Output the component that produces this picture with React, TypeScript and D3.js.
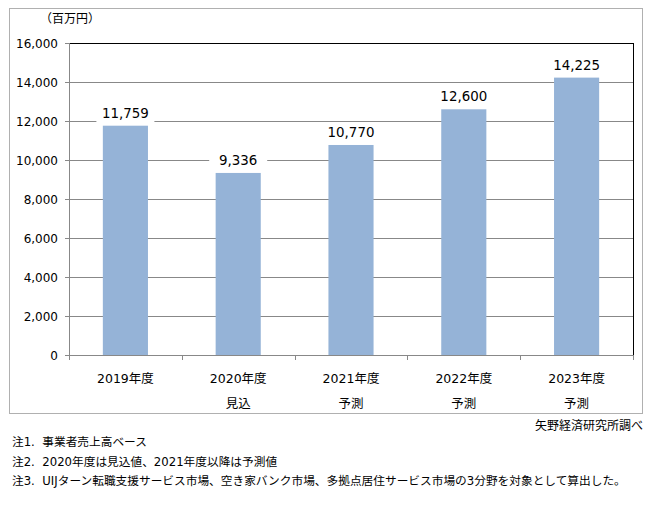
import React from "react";
import * as d3 from "d3";

const categories = ["2019年度", "2020年度", "2021年度", "2022年度", "2023年度"];
const subLabels = ["", "見込", "予測", "予測", "予測"];
const values = [11759, 9336, 10770, 12600, 14225];
const yTicks = [0, 2000, 4000, 6000, 8000, 10000, 12000, 14000, 16000];
const unitLabel = "（百万円）";
const sourceLabel = "矢野経済研究所調べ";
const notes = [
  "注1.  事業者売上高ベース",
  "注2.  2020年度は見込値、2021年度以降は予測値",
  "注3.  UIJターン転職支援サービス市場、空き家バンク市場、多拠点居住サービス市場の3分野を対象として算出した。",
];

const FONT = "'DejaVu Sans', 'Noto Sans CJK JP', sans-serif";

export default function App() {
  const W = 652, H = 520;
  const left = 69, right = 633, top = 43, bottom = 355;
  const x = d3.scaleBand<string>().domain(categories).range([left, right]).paddingInner(0.6).paddingOuter(0.3);
  const y = d3.scaleLinear().domain([0, 16000]).range([bottom, top]);
  const fmt = d3.format(",");
  const step = x.step();
  const boundaries = d3.range(categories.length + 1).map((i) => left + i * step);

  return (
    <svg width={W} height={H} style={{ position: "absolute", left: 0, top: 0, background: "#fff" }} fontFamily={FONT}>
      <rect x={0} y={0} width={W} height={H} fill="#fff" />
      <rect x={9.5} y={8.5} width={633} height={405} fill="none" stroke="#b0b0b0" strokeWidth={1} />
      <text x={40} y={23} fontSize={12} fill="#000">{unitLabel}</text>
      {yTicks.filter((t) => t > 0).map((t) => (
        <line key={"g" + t} x1={left} x2={right} y1={Math.round(y(t)) + 0.5} y2={Math.round(y(t)) + 0.5} stroke="#888" strokeWidth={1} />
      ))}
      <line x1={left} x2={right} y1={Math.round(y(16000)) + 0.5} y2={Math.round(y(16000)) + 0.5} stroke="#000" strokeWidth={1} />
      <line x1={right + 0.5} x2={right + 0.5} y1={top} y2={bottom} stroke="#000" strokeWidth={1} />
      {categories.map((c, i) => (
        <rect key={c} x={x(c)} y={y(values[i])} width={x.bandwidth()} height={bottom - y(values[i])} fill="#95B3D7" />
      ))}
      <line x1={left + 0.5} x2={left + 0.5} y1={top} y2={bottom} stroke="#888" strokeWidth={1} />
      {yTicks.map((t) => (
        <g key={"t" + t}>
          <line x1={left - 4} x2={left} y1={Math.round(y(t)) + 0.5} y2={Math.round(y(t)) + 0.5} stroke="#888" />
          <text x={58} y={y(t) + 4.5} fontSize={12} textAnchor="end" fill="#000">{fmt(t)}</text>
        </g>
      ))}
      <line x1={left} x2={right + 1} y1={bottom + 0.5} y2={bottom + 0.5} stroke="#888" strokeWidth={1} />
      {boundaries.map((b, i) => (
        <line key={"b" + i} x1={Math.round(b) + 0.5} x2={Math.round(b) + 0.5} y1={bottom} y2={bottom + 5} stroke="#888" />
      ))}
      {categories.map((c, i) => (
        <g key={"xl" + c}>
          <text x={(x(c) as number) + x.bandwidth() / 2} y={383} fontSize={12.5} textAnchor="middle" fill="#000">{c}</text>
          {subLabels[i] && (
            <text x={(x(c) as number) + x.bandwidth() / 2} y={408} fontSize={12.5} textAnchor="middle" fill="#000">{subLabels[i]}</text>
          )}
        </g>
      ))}
      {categories.map((c, i) => {
        const cx = (x(c) as number) + x.bandwidth() / 2;
        const vy = y(values[i]);
        return (
          <g key={"v" + c}>
            <rect x={cx - 29} y={vy - 22} width={58} height={19} fill="#fff" />
            <text x={cx} y={vy - 8} fontSize={13.4} textAnchor="middle" fill="#000">{fmt(values[i])}</text>
          </g>
        );
      })}
      <text x={643} y={430} fontSize={12} textAnchor="end" fill="#000">{sourceLabel}</text>
      {notes.map((n, i) => (
        <text key={"n" + i} x={12} y={446 + i * 19.5} fontSize={11.7} fill="#000" style={{ whiteSpace: "pre" }}>{n}</text>
      ))}
    </svg>
  );
}
